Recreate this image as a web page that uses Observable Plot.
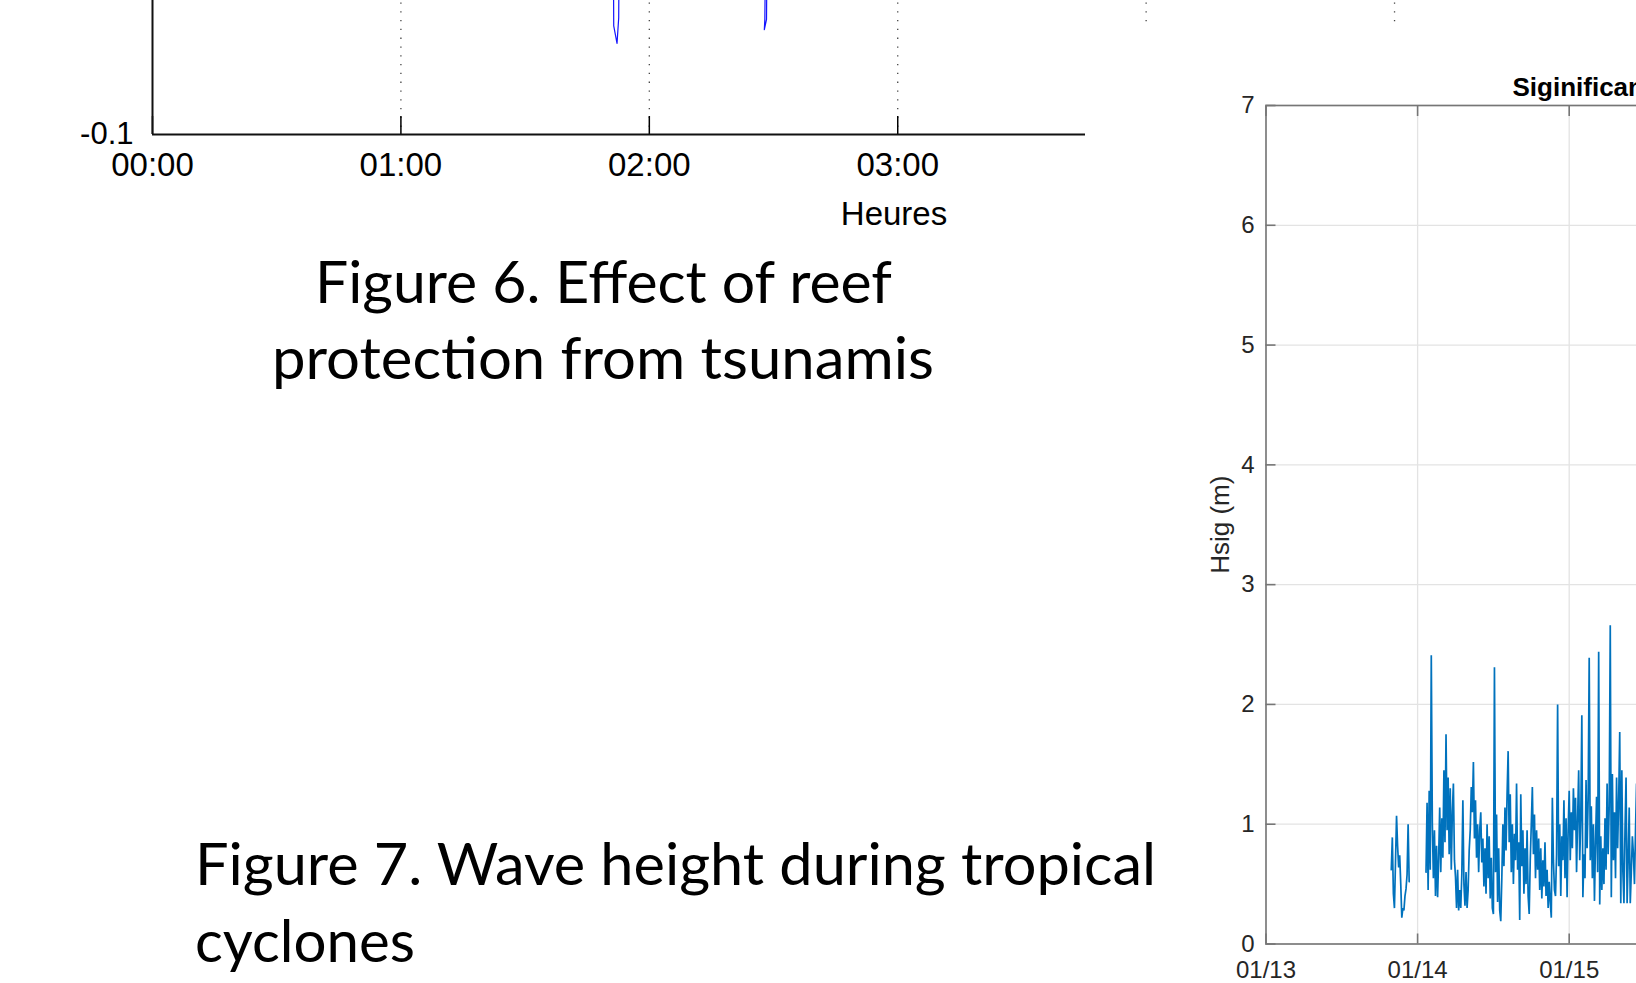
<!DOCTYPE html>
<html>
<head>
<meta charset="utf-8">
<script src="https://cdn.jsdelivr.net/npm/d3@7"></script>
<script src="https://cdn.jsdelivr.net/npm/@observablehq/plot@0.6"></script>
<style>
html, body { margin: 0; padding: 0; background: #fff; overflow: hidden; width: 1636px; height: 983px; }
#page { position: relative; width: 1636px; height: 983px; overflow: hidden; background: #fff; }
#chart1 { position: absolute; left: 0; top: -200px; width: 1636px; z-index: 0; }
#chart2 { position: absolute; left: 1085px; top: 24px; width: 645px; height: 959px; background: #fff; z-index: 1; }
.cap { position: absolute; left: 0; top: 0; white-space: nowrap; font-family: Lato, "Open Sans", sans-serif;
       font-size: 58.5px; line-height: 1; color: #000; transform-origin: 0 0; z-index: 2; }
</style>
</head>
<body>
<div id="page">
  <div id="chart1"></div>
  <div id="chart2"></div>
</div>
<script>
// ---------------- Figure 6 (tsunami record, cropped) ----------------
const hourTicks = [0, 1, 2, 3, 4, 5];
const gridHours = [1, 2, 3, 4, 5];
const yTick1 = [-0.1];
const spikeEvent = [1, 1, 1, 1, 1, 2, 2, 2, 2, 2];
const spikeHour  = [1.8551, 1.8567, 1.8700, 1.8768, 1.8784, 2.4742, 2.4718, 2.4630, 2.4650, 2.4686];
const spikeLevel = [0.02, -0.035, -0.0455, -0.030, 0.02, 0.02, -0.031, -0.0372, -0.031, 0.02];
const xLabel1 = "Heures";

// ---------------- Figure 7 (significant wave height, cropped) ----------------
const dayTicks = ["2020-01-13", "2020-01-14", "2020-01-15", "2020-01-16"];
const hsigTicks = [0, 1, 2, 3, 4, 5, 6, 7];
const seg1Start = "2020-01-13T19:50:00Z";
const seg2Start = "2020-01-14T01:20:00Z";
const stepMinutes = 10;
const hsigSeg1 = [0.62, 0.89, 0.42, 0.30, 0.68, 1.07, 0.82, 0.64, 0.74, 0.50, 0.22, 0.30, 0.28, 0.40, 0.46, 0.58, 1.00, 0.52];
const hsigSeg2 = [
  0.60, 1.18, 0.45, 1.28, 0.62, 2.41, 1.00, 0.55, 0.95, 0.40,
  0.82, 0.39, 0.72, 1.14, 0.60, 1.05, 0.72, 1.45, 0.85, 1.75,
  0.95, 1.39, 0.75, 1.30, 0.62, 1.10, 1.34, 0.70, 0.56, 0.30,
  0.62, 0.28, 0.45, 0.30, 0.58, 1.20, 0.50, 0.32, 0.60, 0.30,
  0.45, 0.78, 0.95, 1.31, 1.10, 1.52, 0.88, 1.20, 0.72, 1.00,
  0.60, 0.95, 1.10, 0.68, 0.88, 0.48, 0.80, 0.42, 1.00, 0.55,
  0.90, 0.38, 0.72, 0.30, 0.25, 2.31, 0.60, 1.08, 0.35, 0.80,
  0.28, 0.19, 0.55, 1.00, 0.65, 1.14, 0.78, 1.25, 1.61, 0.85,
  1.25, 0.60, 1.00, 0.50, 0.92, 0.70, 1.34, 0.62, 0.85, 0.20,
  1.25, 0.65, 0.95, 0.42, 0.80, 0.50, 0.95, 0.40, 0.25, 0.70,
  1.00, 1.31, 0.75, 1.08, 0.55, 0.95, 0.62, 0.88, 0.45, 0.80,
  0.38, 0.70, 0.48, 0.85, 0.40, 0.62, 0.30, 0.52, 0.35, 0.22,
  1.22, 0.70, 0.45, 0.40, 0.75, 2.00, 0.65, 1.00, 0.40, 0.90,
  0.70, 1.20, 0.55, 1.05, 0.39, 0.95, 1.28, 0.70, 1.10, 0.80,
  1.30, 0.95, 1.22, 0.60, 1.05, 1.45, 0.70, 1.05, 1.91, 0.39,
  0.75, 0.55, 1.37, 0.80, 1.20, 2.39, 0.70, 1.15, 0.55, 1.00,
  0.36, 0.85, 1.23, 0.60, 2.44, 0.33, 0.90, 0.45, 0.80, 0.50,
  1.05, 0.62, 1.34, 0.75, 1.15, 2.66, 0.39, 1.42, 0.70, 1.10,
  0.55, 1.39, 0.80, 1.20, 1.77, 0.34, 1.45, 0.60, 0.34, 0.95,
  1.39, 0.34, 0.70, 1.14, 0.34, 0.60, 0.90, 0.75, 0.50, 0.95,
  1.34, 0.62, 0.90, 0.55
];
const title2 = "Siginificant Wave Height";
const yLabel2 = "Hsig (m)";

// ---------------- Captions ----------------
const captionLines = [
  "Figure 6. Effect of reef",
  "protection from tsunamis",
  "Figure 7. Wave height during tropical",
  "cyclones"
];

// ===== build chart 1 =====
const spikes = spikeHour.map((h, i) => ({hour: h, level: spikeLevel[i], ev: spikeEvent[i]}));
const hh = h => String(h).padStart(2, "0") + ":00";

const chart1 = Plot.plot({
  width: 1636,
  height: 434,
  marginLeft: 152,
  marginRight: 1,
  marginTop: 0,
  marginBottom: 100,
  style: {fontFamily: "'Liberation Sans', Arial, sans-serif", fontSize: "33px", color: "#000", background: "transparent", overflow: "visible"},
  x: {domain: [0, 5.97]},
  y: {domain: [-0.1, 0.1]},
  marks: [
    Plot.gridX(gridHours, {stroke: "#444", strokeOpacity: 1, strokeWidth: 1.3, strokeDasharray: "1.3,7.5"}),
    Plot.line(spikes, {x: "hour", y: "level", z: "ev", stroke: "#1414ff", strokeWidth: 1.2}),
    Plot.axisX(hourTicks, {anchor: "bottom", tickSize: -18, tickPadding: 36, tickFormat: hh, label: null,
      stroke: "#000", strokeWidth: 1.5, fill: "#000", fontSize: 33}),
    Plot.axisY(yTick1, {anchor: "left", tickSize: 0, tickPadding: 19, tickFormat: d => String(d), label: null,
      fill: "#000", fontSize: 31}),
    Plot.ruleX([0], {stroke: "#111", strokeWidth: 2}),
    Plot.ruleY([-0.1], {stroke: "#111", strokeWidth: 1.8}),
    Plot.text([xLabel1], {frameAnchor: "bottom", dy: 67, lineAnchor: "top", fontSize: 33, fill: "#000"})
  ]
});
document.getElementById("chart1").appendChild(chart1);

// ===== build chart 2 =====
const stepMs = stepMinutes * 60000;
const t1 = new Date(seg1Start).getTime();
const t2 = new Date(seg2Start).getTime();
const waves = [
  ...hsigSeg1.map((v, i) => ({t: new Date(t1 + i * stepMs), h: v, seg: 1})),
  ...hsigSeg2.map((v, i) => ({t: new Date(t2 + i * stepMs), h: v, seg: 2}))
];
const days = dayTicks.map(d => new Date(d + "T00:00:00Z"));
const fmtDay = d3.utcFormat("%m/%d");
const axisCol = "#767676";
const textCol = "#262626";

const chart2 = Plot.plot({
  width: 645,
  height: 959,
  marginLeft: 180.5,
  marginRight: 9.7,
  marginTop: 81,
  marginBottom: 39.5,
  style: {fontFamily: "'Liberation Sans', Arial, sans-serif", fontSize: "24px", color: textCol, background: "#fff", overflow: "visible"},
  x: {type: "utc", domain: [days[0], days[days.length - 1]]},
  y: {domain: [0, 7]},
  marks: [
    Plot.gridX(days, {stroke: "#e3e3e3", strokeOpacity: 1, strokeWidth: 1.3}),
    Plot.gridY(hsigTicks, {stroke: "#e3e3e3", strokeOpacity: 1, strokeWidth: 1.3}),
    Plot.line(waves, {x: "t", y: "h", z: "seg", stroke: "#0072BD", strokeWidth: 1.7, strokeOpacity: 1, strokeLinejoin: "miter"}),
    Plot.frame({stroke: axisCol, strokeWidth: 1.6}),
    Plot.axisX(days, {anchor: "bottom", tickSize: -10, tickPadding: 26.5, tickFormat: fmtDay, label: null,
      stroke: axisCol, strokeWidth: 1.6, fill: textCol, fontSize: 24}),
    Plot.axisX(days, {anchor: "top", tickSize: -10, tickFormat: () => "", label: null,
      stroke: axisCol, strokeWidth: 1.6}),
    Plot.axisY(hsigTicks, {anchor: "left", tickSize: -10, tickPadding: 21.5, tickFormat: d => String(d), label: null,
      stroke: axisCol, strokeWidth: 1.6, fill: textCol, fontSize: 24}),
    Plot.text([yLabel2], {frameAnchor: "left", dx: -45.5, rotate: -90, textAnchor: "middle", lineAnchor: "middle",
      fontSize: 26, fill: textCol}),
    Plot.text([title2], {frameAnchor: "top-left", dx: 246.5, dy: -28.3, textAnchor: "start", lineAnchor: "top",
      fontSize: 26, fontWeight: "bold", fill: "#000"})
  ]
});
document.getElementById("chart2").appendChild(chart2);

// ===== captions (real text, fitted to slide layout) =====
const capLayout = [
  {x: 315, w: 577, base: 303},
  {x: 272, w: 662, base: 379},
  {x: 195, w: 961, base: 885},
  {x: 195, w: 220, base: 962}
];
const page = document.getElementById("page");
captionLines.forEach((txt, i) => {
  const L = capLayout[i];
  const div = document.createElement("div");
  div.className = "cap";
  div.appendChild(document.createTextNode(txt));
  const mark = document.createElement("span");
  mark.style.cssText = "display:inline-block;width:0;height:0;vertical-align:baseline";
  div.appendChild(mark);
  page.appendChild(div);
  const r = div.getBoundingClientRect();
  const b = mark.getBoundingClientRect().top - r.top;
  const sx = L.w / r.width;
  div.style.transform = `translate(${L.x}px, ${L.base - b}px) scaleX(${sx})`;
});
</script>
</body>
</html>
